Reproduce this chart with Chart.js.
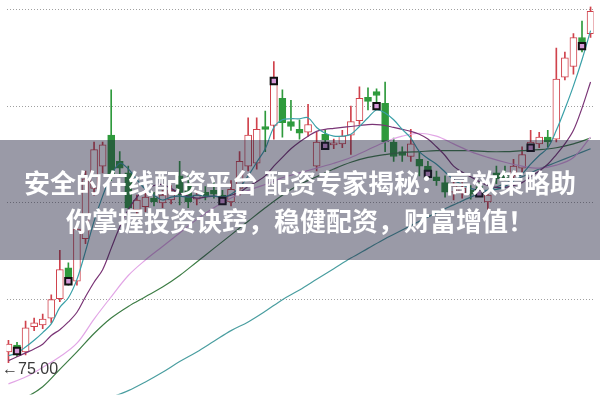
<!DOCTYPE html>
<html>
<head>
<meta charset="utf-8">
<script src="https://cdn.jsdelivr.net/npm/chart.js@4.4.1/dist/chart.umd.min.js"></script>
<style>
  html, body { margin: 0; padding: 0; background: #fff; }
  #wrap { position: relative; width: 600px; height: 401px; overflow: hidden; }
  #c { position: absolute; left: 0; top: 0; }
  #banner { position: absolute; left: 0; top: 140px; width: 600px; height: 120px; background: rgba(30,30,60,0.45); }
  #title { position: absolute; left: 0; top: 163px; width: 600px; text-align: center; color: #fff;
           font: bold 26px/38px "Noto Sans CJK SC", sans-serif; white-space: nowrap; }
  #low { position: absolute; left: 2px; top: 361px; font: 16px/16px "Liberation Sans", Arial, sans-serif; color: #3a3a3a; white-space: nowrap; }
</style>
</head>
<body>
<div id="wrap">
  <canvas id="c" width="600" height="401"></canvas>
  <div id="banner"></div>
  <div id="title">安全的在线配资平台 配资专家揭秘：高效策略助<br>你掌握投资诀窍，稳健配资，财富增值！</div>
  <div id="low"></div>
</div>
<script>
// ---- data ----
const opens  = [75.55,75.90,75.55,76.85,76.95,77.30,78.30,79.90,79.20,81.40,84.00,85.15,86.75,85.40,84.80,82.90,83.05,83.50,83.25,83.40,84.65,84.15,83.45,83.80,83.90,83.65,83.30,84.00,85.15,85.30,87.20,87.25,88.65,87.45,87.05,86.90,85.15,86.80,86.25,86.30,86.75,87.50,88.70,89.00,88.40,86.40,85.90,85.65,85.50,85.15,84.60,84.30,83.80,83.75,83.90,84.10,83.30,84.80,84.75,84.65,85.05,86.10,86.30,86.65,86.55,89.75,90.30,91.80,92.00];
const highs  = [76.15,76.05,77.15,77.30,77.50,78.50,80.80,80.15,82.15,84.90,86.40,86.40,89.10,85.90,85.15,83.65,83.90,83.80,83.90,84.15,85.40,84.65,83.90,84.10,84.30,83.90,84.40,85.90,87.65,87.65,88.00,90.55,89.10,88.55,87.55,88.35,86.90,87.00,86.55,87.00,88.25,89.25,89.20,89.15,89.50,86.60,86.15,87.05,85.90,85.40,84.90,84.65,84.50,84.30,84.15,84.30,83.90,85.15,85.15,85.50,86.15,87.00,86.90,87.00,91.25,91.05,92.00,92.65,93.40];
const lows   = [75.00,75.30,75.40,76.65,76.75,77.05,78.15,79.00,79.00,81.15,83.65,84.80,84.40,84.65,82.65,82.70,82.80,83.10,83.00,83.20,83.15,83.00,83.15,83.40,83.50,83.25,83.10,83.65,84.90,85.00,85.90,86.55,86.65,87.00,86.55,86.70,84.90,86.30,86.05,86.10,85.75,87.30,88.05,88.40,85.90,85.40,85.40,85.40,84.65,84.65,84.15,83.55,83.40,83.50,83.45,83.65,82.90,84.25,84.40,84.40,84.80,85.90,86.10,86.15,86.40,89.60,89.90,91.05,91.80];
const closes = [75.95,75.70,76.80,77.05,77.25,78.25,79.80,79.40,81.90,84.50,86.00,86.25,84.65,85.05,83.00,83.40,83.55,83.30,83.65,83.90,83.65,83.30,83.65,83.60,83.70,83.50,83.95,85.40,86.75,87.05,87.05,89.50,87.40,87.20,86.85,87.30,86.40,86.50,86.35,86.70,87.45,88.65,88.50,88.80,86.40,85.65,85.70,86.30,85.15,84.95,84.40,83.80,84.15,84.00,83.70,83.90,83.65,84.50,84.55,85.15,85.75,86.40,86.65,86.40,89.65,90.75,91.80,91.55,93.15];

const ma5  = [75.35,75.50,75.80,76.15,76.55,77.00,77.85,78.35,79.30,80.75,82.30,83.60,84.65,85.30,85.00,84.45,83.95,83.65,83.40,83.55,83.60,83.55,83.65,83.60,83.60,83.55,83.70,84.05,84.65,85.35,86.05,87.15,87.55,87.60,87.60,87.65,87.15,86.85,86.70,86.70,86.80,87.20,87.65,88.05,87.90,87.55,87.05,86.60,85.90,85.55,85.25,84.85,84.45,84.20,84.00,83.90,83.90,83.95,84.10,84.40,84.75,85.25,85.70,86.10,87.00,88.10,89.30,90.65,92.15];
const ma10 = [75.10,75.30,75.50,75.70,75.95,76.40,76.70,77.10,77.60,78.40,79.15,79.80,80.90,82.00,82.90,83.55,83.95,84.15,84.20,84.00,83.75,83.60,83.50,83.55,83.60,83.55,83.65,83.80,84.10,84.35,84.65,85.15,85.60,86.05,86.40,86.70,86.95,87.05,87.10,87.15,87.20,87.25,87.30,87.30,87.25,87.15,87.05,86.95,86.80,86.55,86.15,85.70,85.15,84.85,84.60,84.35,84.15,84.05,84.05,84.15,84.30,84.60,84.90,85.25,85.75,86.30,87.00,88.15,89.50];

const maSampleIdx = [0,2,4,6,8,10,12,14,16,18,20,22,24,26,28,30,32,34,36,38,40,42,44,46,48,50,52,54,56,58,60,62,64,66,68];
const ma20 = [73.90,74.25,74.75,75.30,76.00,77.25,78.40,79.50,80.30,81.00,81.70,82.40,83.00,83.50,83.90,84.20,84.55,84.80,85.05,85.30,85.60,86.00,86.40,86.70,86.85,86.70,86.30,85.90,85.60,85.35,85.15,85.05,85.20,85.60,86.65];
const ma30 = [72.90,73.20,73.75,74.65,75.55,76.50,77.30,77.90,78.40,78.90,79.50,80.20,80.90,81.60,82.30,83.00,83.65,84.20,84.60,85.00,85.35,85.60,85.75,85.85,85.90,85.95,85.95,85.95,85.90,85.90,85.95,86.00,86.10,86.30,86.60];
const ma60Idx = [10,12,14,16,18,20,22,24,26,28,30,32,34,36,38,40,42,44,46,48,50,52,54,56,58,60,62,64,66,68];
const ma60 = [72.85,73.20,73.55,74.00,74.50,75.05,75.55,76.10,76.65,77.10,77.65,78.25,78.75,79.30,79.85,80.40,80.90,81.40,81.85,82.30,82.75,83.15,83.55,83.90,84.25,84.60,85.00,85.35,85.70,86.05];

const markerIdx = [1,7,25,31,37,43,49,55,61,67];
const markerVal = [75.60,79.20,83.35,89.55,86.20,88.25,84.75,83.75,86.10,91.35];

const gridValues = [78.25, 83.25, 88.25, 93.25];
const lowLabel = '75.00';

// ---- build ----
document.getElementById('low').textContent = '\u2190' + lowLabel;
const idx = opens.map((_, i) => i);
const isUp = i => closes[i] >= opens[i];
const RED = '#d0424c', GREEN = '#2e9a3c';

const lineDs = (label, pts, color, order) => ({
  type: 'line', label, data: pts, borderColor: color, borderWidth: 1.2,
  pointRadius: 0, tension: 0.35, fill: false, order
});

new Chart(document.getElementById('c'), {
  type: 'bar',
  data: {
    datasets: [
      { type: 'bar', label: 'wick', data: idx.map(i => ({ x: i, y: [lows[i], highs[i]] })),
        backgroundColor: ctx => isUp(ctx.dataIndex) ? RED : GREEN, borderWidth: 0,
        barThickness: 1, grouped: false, order: 10 },
      { type: 'bar', label: 'body', data: idx.map(i => ({ x: i, y: [opens[i], closes[i]] })),
        backgroundColor: ctx => isUp(ctx.dataIndex) ? '#ffffff' : GREEN,
        borderColor: ctx => isUp(ctx.dataIndex) ? RED : GREEN, borderWidth: 1, borderSkipped: false,
        barThickness: 7, grouped: false, order: 9 },
      lineDs('MA60', ma60Idx.map((x, k) => ({ x, y: ma60[k] })), '#4a9ea0', 8),
      lineDs('MA30', maSampleIdx.map((x, k) => ({ x, y: ma30[k] })), '#3d7d45', 7),
      lineDs('MA20', maSampleIdx.map((x, k) => ({ x, y: ma20[k] })), '#e2a6e6', 6),
      lineDs('MA10', idx.map(i => ({ x: i, y: ma10[i] })), '#7a3576', 5),
      lineDs('MA5', idx.map(i => ({ x: i, y: ma5[i] })), '#3aa0a8', 4),
      { type: 'line', label: 'mark', showLine: false, data: markerIdx.map((x, k) => ({ x, y: markerVal[k] })),
        pointStyle: 'rect', pointRadius: 4.5, pointBackgroundColor: '#d59ad8', pointBorderColor: '#111',
        pointBorderWidth: 2, order: 1 }
    ]
  },
  options: {
    responsive: false, animation: false, devicePixelRatio: 1,
    layout: { padding: 0 },
    plugins: { legend: { display: false }, tooltip: { enabled: false } },
    scales: {
      x: { type: 'linear', min: -0.2286, max: 68.343, display: false, offset: false },
      y: { type: 'linear', min: 73.35, max: 93.4, display: true, position: 'left',
           ticks: { display: false }, grid: { color: '#a0a0a0', drawTicks: false, lineWidth: 1 },
           border: { display: false, dash: [1, 2] },
           afterBuildTicks: axis => { axis.ticks = gridValues.map(v => ({ value: v })); } }
    }
  }
});
</script>
</body>
</html>
